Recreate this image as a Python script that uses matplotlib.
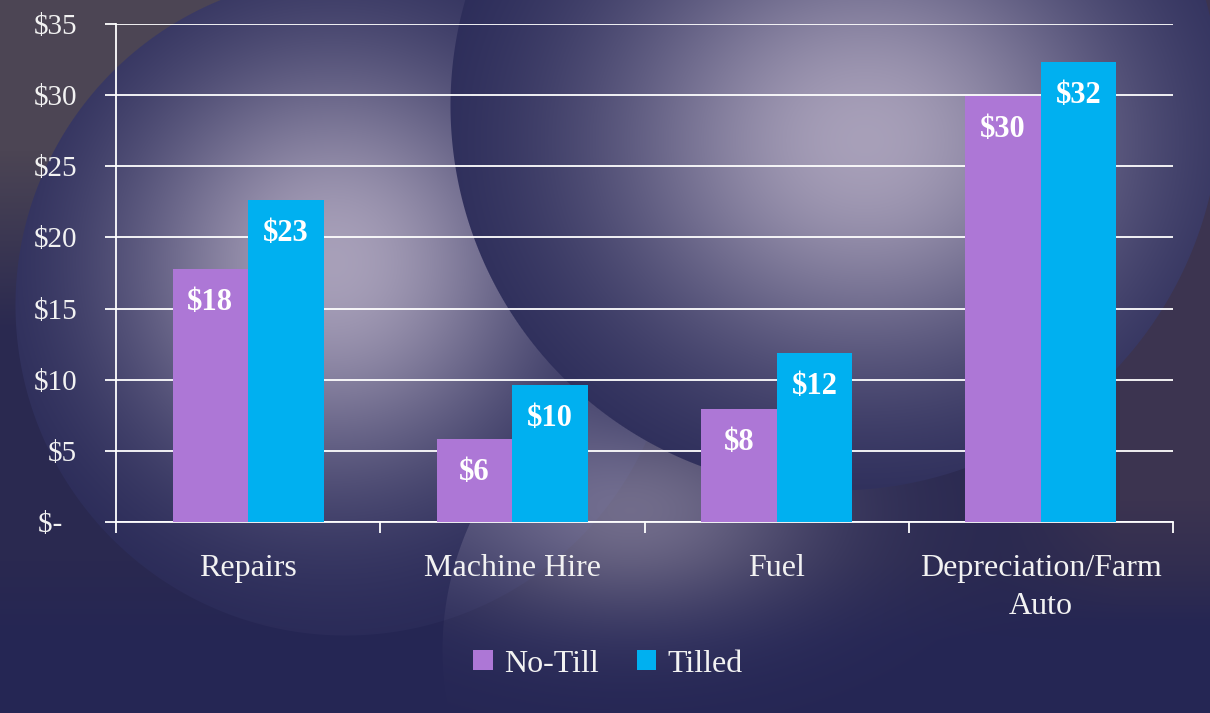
import numpy as np
import matplotlib
matplotlib.use('Agg')
import matplotlib.pyplot as plt
from matplotlib.ticker import FixedLocator, FuncFormatter

categories = ['Repairs', 'Machine Hire', 'Fuel', 'Depreciation/Farm\nAuto']
no_till = [17.8, 5.85, 7.95, 29.95]
tilled = [22.6, 9.6, 11.9, 32.3]
series_names = ['No-Till', 'Tilled']
yticks = [0, 5, 10, 15, 20, 25, 30, 35]

purple = '#AD77D6'
blue = '#00B0F0'
txt = '#F2F2F2'

plt.rcParams['font.family'] = ['Liberation Serif', 'DejaVu Serif']

W, H = 1210, 713
fig = plt.figure(figsize=(W / 100, H / 100), dpi=100)

# background: navy slide with soft glowing "bubbles"
navy = np.array([37, 38, 84]) / 255
navy2 = np.array([42, 41, 80]) / 255
grey = np.array([76, 69, 84]) / 255
grey2 = np.array([60, 52, 80]) / 255
lav = np.array([200, 190, 210]) / 255

yy, xx = np.mgrid[0:H, 0:W].astype(float)


def put(img, color, weight):
    w = np.clip(weight, 0, 1)[..., None]
    return img * (1 - w) + color * w


def disc(cx, cy, r):
    return np.clip(r - np.hypot(xx - cx, yy - cy) + 0.5, 0, 1)


def glow(cx, cy, sx, sy, peak):
    return peak * np.exp(-((xx - cx) ** 2 / (2 * sx ** 2) + (yy - cy) ** 2 / (2 * sy ** 2)))


img = np.ones((H, W, 3)) * navy2
img = put(img, navy, np.clip((yy - 560) / 80, 0, 1))
img = put(img, grey, np.clip((330 - yy) / 180, 0, 1) * (xx < 520))
img = put(img, grey2, np.clip((xx - 1000) / 120, 0, 1) * np.clip((620 - yy) / 120, 0, 1))

flat = np.ones((H, W, 3)) * navy
ball1 = put(flat, lav, glow(333, 262, 150, 150, 0.8))
m1 = disc(345, 305, 330)[..., None]
img = img * (1 - m1) + ball1 * m1

# soft haze below the right bubble, cut on its left side
img = put(img, lav, glow(630, 510, 130, 75, 0.45) * disc(750, 650, 308))

ball2 = put(flat, lav, glow(865, 140, 185, 160, 0.8))
m2 = disc(835, 105, 385)[..., None]
img = img * (1 - m2) + ball2 * m2

bg = fig.add_axes([0, 0, 1, 1], zorder=0)
bg.imshow(img, aspect='auto', extent=(0, 1, 0, 1))
bg.axis('off')

ax = fig.add_axes([116 / W, 1 - 522 / H, (1173 - 116) / W, (522 - 24) / H], zorder=1)
ax.patch.set_alpha(0)

x = np.arange(len(categories))
w = 0.286
b1 = ax.bar(x - w / 2, no_till, w, color=purple, label=series_names[0], zorder=3)
b2 = ax.bar(x + w / 2, tilled, w, color=blue, label=series_names[1], zorder=3)

for bars, vals in [(b1, no_till), (b2, tilled)]:
    for rect, v in zip(bars, vals):
        ax.annotate(f'${v:.0f}', (rect.get_x() + rect.get_width() / 2, v),
                    xytext=(0, -24), textcoords='offset points',
                    ha='center', va='center', color='white',
                    fontsize=22, fontweight='bold', zorder=4)

ax.set_xlim(-0.5, 3.5)
ax.set_ylim(0, 35)
ax.set_yticks(yticks)
ax.yaxis.set_major_formatter(FuncFormatter(lambda v, p: '$-  ' if v == 0 else f'${v:.0f}'))
ax.grid(axis='y', color='white', linewidth=1.3, zorder=1)
ax.set_axisbelow(True)

ax.set_xticks(x)
ax.set_xticklabels(categories, linespacing=1.4)
ax.xaxis.set_minor_locator(FixedLocator(np.arange(-0.5, 4, 1)))
ax.tick_params(axis='x', which='major', length=0, pad=23, labelsize=23, labelcolor=txt)
ax.tick_params(axis='x', which='minor', length=8, width=1.3, color='white', direction='out')
ax.tick_params(axis='y', length=8, width=1.3, color='white', pad=20, labelsize=21, labelcolor=txt)

for s in ['top', 'right']:
    ax.spines[s].set_visible(False)
for s in ['left', 'bottom']:
    ax.spines[s].set_color('white')
    ax.spines[s].set_linewidth(1.3)

fig.legend(loc='center', bbox_to_anchor=(608 / W, 1 - 664 / H), ncol=2, frameon=False,
           fontsize=23, handlelength=0.6, handleheight=0.6, handletextpad=0.35,
           columnspacing=1.2, labelcolor=txt)

fig.savefig('out.png', dpi=100)
